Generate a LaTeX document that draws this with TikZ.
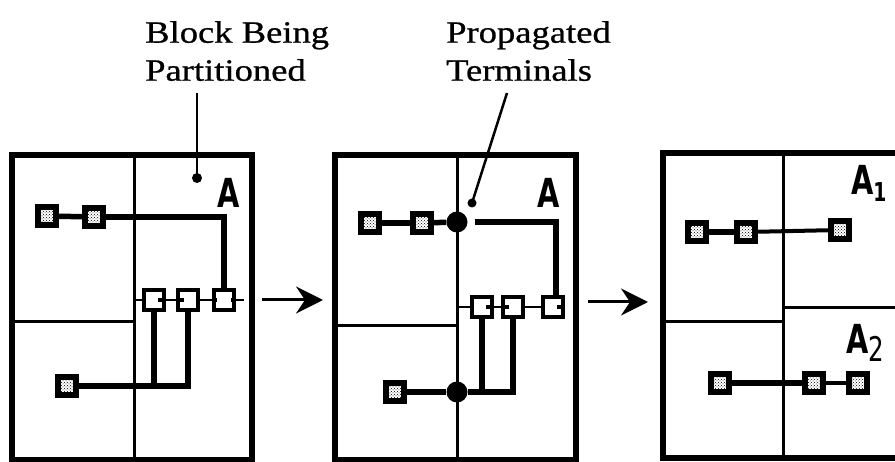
\documentclass[tikz,border=0pt]{standalone}
\usepackage{fontspec}
\setmainfont{Liberation Serif}
\newfontfamily\lblfont[FakeStretch=1.18, FakeBold=0.8]{Liberation Serif}
\newfontfamily\blkfont[FakeStretch=0.72]{DejaVu Sans}
\usetikzlibrary{arrows.meta, patterns, positioning, calc}

\begin{document}
\begin{tikzpicture}[
  x=1pt, y=-1pt,
  flow/.style={draw, line width=3pt, -{Stealth[length=27pt, width=27pt, inset=9pt]}},
  frame/.style={draw, line width=6pt},
  divider/.style={draw, line width=3pt},
  net/.style={draw, line width=5.5pt},
  thinnet/.style={draw, line width=4pt},
  cut/.style={draw, line width=2.5pt},
  pad/.style={draw, line width=6pt, fill=white, minimum size=18pt, inner sep=0pt,
    postaction={pattern=crosshatch dots}},
  term/.style={draw, line width=4pt, fill=white, minimum size=20pt, inner sep=0pt},
  tdot/.style={circle, fill, inner sep=0pt, minimum size=21pt},
  lbl/.style={font=\lblfont\fontsize{31}{38}\selectfont, align=left, inner sep=0pt},
  blk/.style={font=\blkfont\bfseries\fontsize{40}{40}\selectfont, inner sep=0pt}
  ]
  \useasboundingbox (0,0) rectangle (895,462);

  % labels on top
  \node[lbl, anchor=north west] (blklbl) at (145,21) {Block Being\\Partitioned};
  \node[lbl, anchor=north west] (proplbl) at (446,21) {Propagated\\Terminals};

  % ---- block before partitioning
  \draw[frame] (12,155) rectangle (252,460);
  \draw[divider] (134,155) -- (134,460);
  \draw[divider] (12,322) -- (134,322);
  \node[blk] (p1name) at (229,193) {A};
  \coordinate (p1cut) at (134,300);
  \coordinate (p1end) at (244,300);
  \node[pad] (p1s1) at (47,216) {};
  \node[pad] (p1s2) at (94,217) {};
  \node[pad] (p1s3) at (67,386) {};
  \node[term] (p1t1) at (154,300) {};
  \node[term] (p1t2) at (188,300) {};
  \node[term] (p1t3) at (224,300) {};
  \draw[cut] (p1cut) -- (p1t1.west);
  \draw[cut] (p1t1.east) -- (p1t2.west);
  \draw[cut] (p1t2.east) -- (p1t3.west);
  \draw[cut] (p1t3.east) -- (p1end);
  \draw[thinnet] (p1t1.east) -- ++(-8,0);
  \draw[thinnet] (p1t2.west) -- ++(8,0);
  \draw[thinnet] (p1t3.east) -- ++(-5,0);
  \draw[thinnet] (p1t3.west) -- ++(5,0);
  \draw[net] (p1s1) -- (p1s2);
  \draw[net] (p1s2.east) -| (p1t3.north);
  \draw[net] (p1s3.east) -| (p1t2.south);
  \draw[net] (p1t1.south) -- (p1t1.south |- p1s3);
  % pointer to the block
  \coordinate (blktop) at (197,93);
  \coordinate (blkdot) at (197,178);
  \draw[line width=2.5pt] (blktop) -- (blkdot);
  \fill (blkdot) circle (5pt);

  \coordinate (a1s) at (262,300);
  \coordinate (a1e) at (323,300);
  \draw[flow] (a1s) -- (a1e);

  % ---- block with propagated terminals
  \draw[frame] (335,155) rectangle (576,460);
  \draw[divider] (457,155) -- (457,460);
  \draw[divider] (335,326) -- (457,326);
  \node[blk] (p2name) at (549,193) {A};
  \coordinate (p2cut) at (457,307);
  \node[pad] (p2s1) at (370,223) {};
  \node[pad] (p2s2) at (422,223) {};
  \node[pad] (p2s3) at (395,392) {};
  \node[tdot] (p2dA) at (457,222) {};
  \node[tdot] (p2dB) at (457,392) {};
  \node[term] (p2t1) at (482,307) {};
  \node[term] (p2t2) at (513,307) {};
  \node[term] (p2t3) at (553,307) {};
  \draw[cut] (p2cut) -- (p2t1.west);
  \draw[cut] (p2t1.east) -- (p2t2.west);
  \draw[cut] (p2t2.east) -- (p2t3.west);
  \draw[thinnet] (p2t1.east) -- ++(-8,0);
  \draw[thinnet] (p2t2.west) -- ++(8,0);
  \draw[thinnet] (p2t3.east) -- ++(-8,0);
  \draw[net] (p2s1) -- (p2s2);
  \draw[net] (p2s2) -- (p2dA);
  \draw[net] ([xshift=7pt]p2dA.east) -| ([xshift=3pt]p2t3.north);
  \draw[net] (p2s3) -- (p2dB);
  \draw[net] (p2dB) -| (p2t2.south);
  \draw[net] (p2t1.south) -- (p2t1.south |- p2dB);
  % pointer to the propagated terminal
  \coordinate (proptop) at (507,93);
  \coordinate (propdot) at (472,203);
  \draw[line width=2.5pt] (proptop) -- (propdot);
  \fill (propdot) circle (4.5pt);

  \coordinate (a2s) at (588,302);
  \coordinate (a2e) at (648,302);
  \draw[flow] (a2s) -- (a2e);

  % ---- partitioned blocks
  \draw[line width=6pt] (895,153) -- (663,153) -- (663,458) -- (895,458);
  \draw[divider] (783,153) -- (783,458);
  \draw[divider] (663,322) -- (783,322);
  \draw[divider] (783,308) -- (895,308);
  \node[blk, anchor=west] (p3nameA) at (851,183) {A\raisebox{-7pt}{\fontsize{26}{26}\selectfont 1}};
  \node[blk, anchor=west] (p3nameB) at (846,343) {A\raisebox{-8pt}{\fontsize{34}{34}\selectfont\mdseries 2}};
  \node[pad] (p3s1) at (697,232) {};
  \node[pad] (p3s2) at (746,232) {};
  \node[pad] (p3s3) at (840,230) {};
  \node[pad] (p3s4) at (720,383) {};
  \node[pad] (p3s5) at (814,383) {};
  \node[pad] (p3s6) at (858,383) {};
  \draw[net] (p3s1) -- (p3s2);
  \draw[thinnet] (p3s2) -- (p3s3);
  \draw[net] (p3s4) -- (p3s5);
  \draw[thinnet] (p3s5) -- (p3s6);
\end{tikzpicture}
\end{document}
